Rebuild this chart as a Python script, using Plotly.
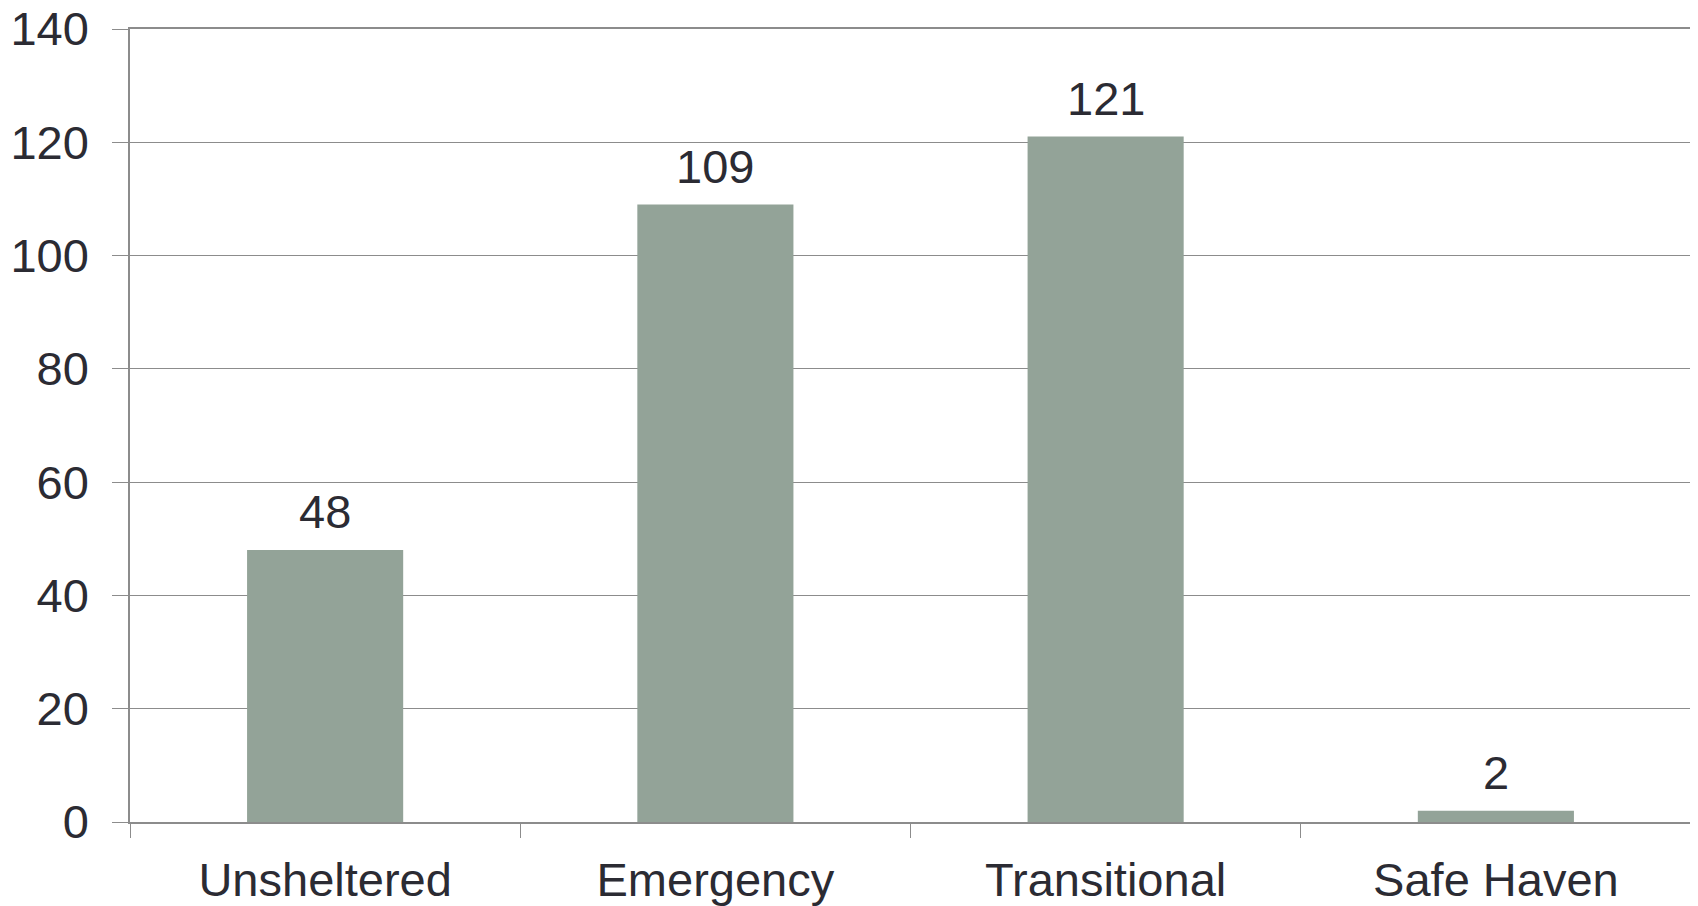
import plotly.graph_objects as go

categories = ["Unsheltered", "Emergency", "Transitional", "Safe Haven"]
values = [48, 109, 121, 2]
y_ticks = [0, 20, 40, 60, 80, 100, 120, 140]

bar_color = "#93a398"
grid_color = "#8c8c8c"
text_color = "#2b2b33"
font_family = "Liberation Sans, Arial, sans-serif"
font_size = 47

n = len(categories)
boundaries = [i - 0.5 for i in range(n + 1)]

fig = go.Figure()
fig.add_trace(go.Bar(
    x=categories, y=values,
    marker=dict(color=bar_color, line=dict(width=0)),
    width=0.4,
    hoverinfo="x+y",
))
# invisible helper trace on the boundary-tick axis
fig.add_trace(go.Scatter(
    x=[boundaries[0], boundaries[-1]], y=[0, 0],
    xaxis="x2", yaxis="y", mode="markers",
    marker=dict(opacity=0), hoverinfo="skip", showlegend=False,
))

for c, v in zip(categories, values):
    fig.add_annotation(
        x=c, y=v, text=str(v), showarrow=False,
        yanchor="bottom", yshift=10,
        font=dict(family=font_family, size=font_size, color=text_color),
    )

fig.update_layout(
    width=1690, height=898,
    margin=dict(l=122, r=7, t=21, b=84),
    plot_bgcolor="white", paper_bgcolor="white",
    showlegend=False,
    bargap=0.6,
    font=dict(family=font_family, size=font_size, color=text_color),
    xaxis2=dict(
        overlaying="x", anchor="y", side="bottom",
        range=[boundaries[0], boundaries[-1]],
        tickvals=boundaries, showticklabels=False,
        ticks="outside", ticklen=15, tickcolor=grid_color, tickwidth=1.3,
        showgrid=False, zeroline=False, showline=False,
        automargin=False,
    ),
)
fig.layout.xaxis.update(
    type="category",
    range=[boundaries[0], boundaries[-1]],
    automargin=False,
    ticks="",
    ticklabelstandoff=16,
    ticklabeloverflow="allow",
    showline=True, linecolor=grid_color, linewidth=1.5,
    mirror=True,
    showgrid=False,
    tickfont=dict(family=font_family, size=font_size, color=text_color),
)
fig.update_yaxes(
    range=[0, 140],
    automargin=False,
    tickvals=y_ticks,
    ticks="outside", ticklen=16, tickcolor=grid_color, tickwidth=1.3,
    ticklabelstandoff=14,
    ticklabeloverflow="allow",
    showline=True, linecolor=grid_color, linewidth=1.5,
    showgrid=True, gridcolor=grid_color, gridwidth=1.3,
    zeroline=False,
    tickfont=dict(family=font_family, size=font_size, color=text_color),
)

fig.write_html("out.html")
